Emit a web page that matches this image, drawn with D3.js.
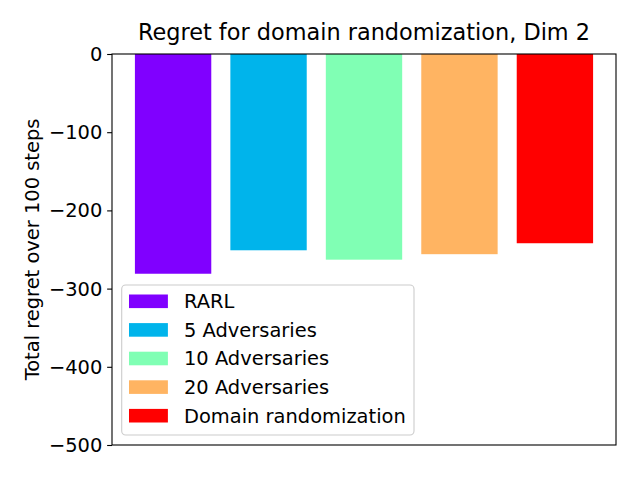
<!DOCTYPE html>
<html>
<head>
<meta charset="utf-8">
<script src="https://cdn.jsdelivr.net/npm/d3@7"></script>
<style>
  body { margin: 0; background: #fff; }
  text { font-family: "DejaVu Sans", sans-serif; fill: #000; }
</style>
</head>
<body>
<svg id="chart" width="640" height="480"></svg>
<script>
const categories = ["RARL", "5 Adversaries", "10 Adversaries", "20 Adversaries", "Domain randomization"];
const values = [-281, -251, -263, -256, -242];
const colors = ["#8000ff", "#00b4eb", "#80ffb4", "#ffb462", "#ff0000"];
const yTicks = [0, -100, -200, -300, -400, -500];
const title = "Regret for domain randomization, Dim 2";
const yLabel = "Total regret over 100 steps";

const W = 640, H = 480;
const margin = { left: 112, right: 24, top: 54, bottom: 35 };
const fs = 19.44;
const titleFs = 22.4;

const svg = d3.select("#chart");
const x = d3.scaleLinear().domain([-0.64, categories.length - 1 + 0.64]).range([margin.left, W - margin.right]);
const y = d3.scaleLinear().domain([-500, 0]).range([H - margin.bottom, margin.top]);
const barW = 0.8;

svg.append("g").selectAll("rect").data(values).join("rect")
  .attr("x", (d, i) => x(i - barW / 2))
  .attr("width", (d, i) => x(i + barW / 2) - x(i - barW / 2))
  .attr("y", y(0))
  .attr("height", d => y(d) - y(0))
  .attr("fill", (d, i) => colors[i]);

// axes frame
const yAxis = d3.axisLeft(y).tickValues(yTicks).tickSize(4.86).tickPadding(4.86).tickFormat(d3.format("d"));
const gy = svg.append("g").attr("transform", `translate(${margin.left},0)`).call(yAxis);
gy.select(".domain").remove();
gy.selectAll(".tick line").attr("stroke", "#000").attr("stroke-width", 1.1);
gy.selectAll(".tick text").style("font-size", fs + "px").attr("font-family", "DejaVu Sans").attr("dy", "0.33em")
  .text(d => d3.format("d")(d).replace("-", "\u2212"));

svg.append("rect")
  .attr("x", margin.left).attr("y", margin.top)
  .attr("width", W - margin.left - margin.right)
  .attr("height", H - margin.top - margin.bottom)
  .attr("fill", "none").attr("stroke", "#000").attr("stroke-width", 1.1);

// title
svg.append("text").attr("x", (margin.left + W - margin.right) / 2).attr("y", 39.5)
  .attr("text-anchor", "middle").style("font-size", titleFs + "px").text(title);

// y label
svg.append("text").attr("transform", `translate(39,${(margin.top + H - margin.bottom) / 2}) rotate(-90)`)
  .attr("text-anchor", "middle").style("font-size", fs + "px").text(yLabel);

// legend
const lg = svg.append("g");
lg.append("rect").attr("x", 121.7).attr("y", 285).attr("width", 292.3).attr("height", 150)
  .attr("rx", 4).attr("ry", 4)
  .attr("fill", "#fff").attr("fill-opacity", 0.8).attr("stroke", "#cccccc").attr("stroke-width", 1.1);
const rowY = i => 301.3 + 28.6 * i;
lg.selectAll("rect.patch").data(categories).join("rect").attr("class", "patch")
  .attr("x", 129).attr("width", 38.9)
  .attr("y", (d, i) => rowY(i) - 6.8).attr("height", 13.6)
  .attr("fill", (d, i) => colors[i]);
lg.selectAll("text").data(categories).join("text")
  .attr("x", 184).attr("y", (d, i) => rowY(i)).attr("dy", "0.35em")
  .style("font-size", fs + "px").text(d => d);
</script>
</body>
</html>
